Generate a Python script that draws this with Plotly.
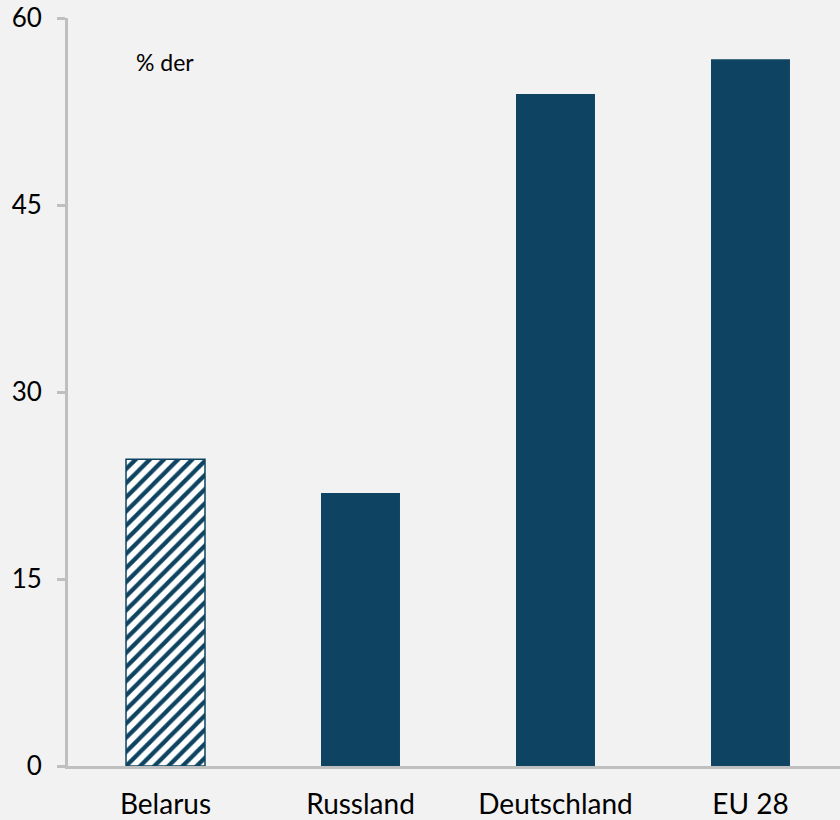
import plotly.graph_objects as go

categories = ["Belarus", "Russland", "Deutschland", "EU 28"]
values = [24.6, 21.9, 53.9, 56.7]
y_ticks = [0, 15, 30, 45, 60]
note_text = "% der"
hatched = ["Belarus"]

bar_color = "#0e4461"
axis_color = "#bfbfbf"
bg = "#f2f2f2"

hx = [c for c in categories if c in hatched]
hy = [v for c, v in zip(categories, values) if c in hatched]
sx = [c for c in categories if c not in hatched]
sy = [v for c, v in zip(categories, values) if c not in hatched]

fig = go.Figure()
fig.add_trace(go.Bar(
    x=hx, y=hy, width=0.405,
    marker=dict(
        color="white",
        line=dict(color=bar_color, width=1.5),
        pattern=dict(shape="/", fgcolor=bar_color, bgcolor="white", fgopacity=1,
                     size=10, solidity=0.42, fillmode="replace"),
    ),
    hoverinfo="skip",
))
fig.add_trace(go.Bar(
    x=sx, y=sy, width=0.405,
    marker=dict(color=bar_color, line=dict(width=0)),
    hoverinfo="skip",
))

fig.add_annotation(
    x=0, y=56.5, xref="x", yref="y", text=note_text, showarrow=False,
    xanchor="left", yanchor="middle", xshift=-32,
    font=dict(family="Lato, sans-serif", size=23, color="black"),
)

fig.update_layout(
    width=840, height=820,
    paper_bgcolor=bg, plot_bgcolor=bg,
    margin=dict(l=68, r=0, t=18, b=52),
    showlegend=False, barmode="overlay",
    font=dict(family="Lato, sans-serif", color="black"),
)
fig.update_xaxes(
    categoryorder="array", categoryarray=categories,
    range=[-0.5, 3.459],
    showline=True, linecolor=axis_color, linewidth=3,
    showgrid=False, ticks="", tickfont=dict(size=28),
    ticklabelstandoff=11, zeroline=False,
)
fig.update_yaxes(
    range=[0, 60], tickvals=y_ticks,
    showline=True, linecolor=axis_color, linewidth=3,
    ticks="outside", ticklen=8, tickwidth=3, tickcolor=axis_color,
    showgrid=False, zeroline=False, tickfont=dict(size=26),
    ticklabelstandoff=10,
)

fig.write_html("out.html")
